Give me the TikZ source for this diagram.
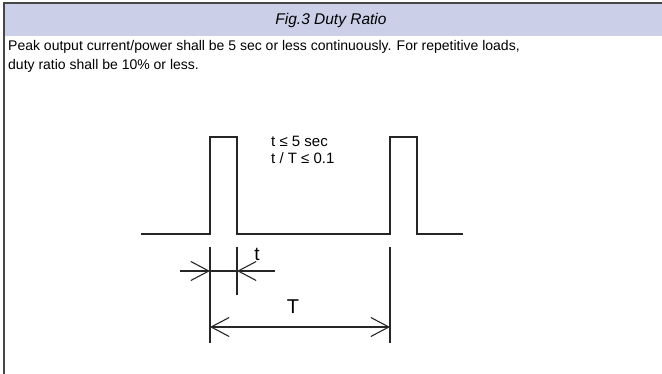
\documentclass[tikz,border=0pt]{standalone}
\usepackage{fontspec}
\setmainfont{Liberation Sans}
\usetikzlibrary{arrows.meta}
\definecolor{bandblue}{RGB}{203,207,232}
\definecolor{framegray}{RGB}{70,70,70}

\begin{document}
\begin{tikzpicture}[x=1pt, y=-1pt,
    wave/.style={line width=1.4pt, black!85},
    extline/.style={line width=1.1pt, black!85},
    dimline/.style={line width=1.1pt, black!85, -{Straight Barb[length=18pt, width=19pt, line width=1.1pt]}},
    lbl/.style={inner sep=0pt, font=\fontsize{13}{15}\selectfont}]
\useasboundingbox (0,0) rectangle (662,374);
% header band and frame
\fill[bandblue] (4,4) rectangle (662,36);
\draw[framegray, line width=2pt] (4,374) -- (4,3.5) -- (662,3.5);
\node[lbl, font=\fontsize{15.5}{17}\selectfont\itshape] (title) at (331,20) {Fig.3 Duty Ratio};
\node[lbl, anchor=west, align=left, font=\fontsize{14}{19}\selectfont] (note) at (8,56)
    {Peak output current/power shall be 5 sec or less continuously. For repetitive loads,\\
     duty ratio shall be 10\% or less.};
% waveform
\coordinate (w0) at (141,234);
\coordinate (r1) at (210,234); \coordinate (r1t) at (210,137);
\coordinate (f1t) at (237,137); \coordinate (f1) at (237,234);
\coordinate (r2) at (390,234); \coordinate (r2t) at (390,137);
\coordinate (f2t) at (417,137); \coordinate (f2) at (417,234);
\coordinate (w1) at (463,234);
\draw[wave] (w0) -- (r1) -- (r1t) -- (f1t) -- (f1) -- (r2) -- (r2t) -- (f2t) -- (f2) -- (w1);
\node[lbl, anchor=west, align=left, font=\fontsize{15}{17}\selectfont] (cond) at (271,150)
    {t ≤ 5 sec\\t / T ≤ 0.1};
% dimensions
\coordinate (e1a) at (210,247); \coordinate (e1b) at (210,343);
\coordinate (e2a) at (237,247); \coordinate (e2b) at (237,295);
\coordinate (e3a) at (390,247); \coordinate (e3b) at (390,343);
\draw[extline] (e1a) -- (e1b);
\draw[extline] (e2a) -- (e2b);
\draw[extline] (e3a) -- (e3b);
\coordinate (ta) at (180,271); \coordinate (tb) at (275,271);
\coordinate (t1) at (210,271); \coordinate (t2) at (237,271);
\draw[extline] (t1) -- (t2);
\draw[dimline] (ta) -- (t1);
\draw[dimline] (tb) -- (t2);
\node[lbl, font=\fontsize{19}{21}\selectfont] (tlbl) at (257,254) {t};
\coordinate (T1) at (210,327); \coordinate (T2) at (390,327);
\draw[dimline, {Straight Barb[length=18pt, width=19pt, line width=1.1pt]}-{Straight Barb[length=18pt, width=19pt, line width=1.1pt]}] (T1) -- (T2);
\node[lbl, font=\fontsize{20}{22}\selectfont] (Tlbl) at (293,307) {T};
\end{tikzpicture}
\end{document}
